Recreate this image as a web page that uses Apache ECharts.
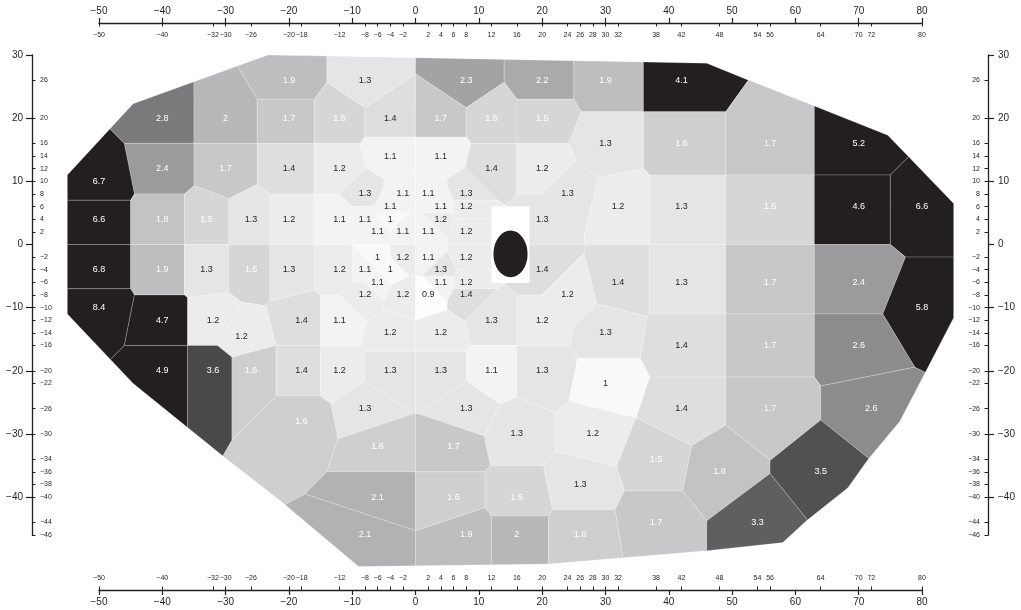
<!DOCTYPE html>
<html>
<head>
<meta charset="utf-8">
<script src="https://cdn.jsdelivr.net/npm/echarts@6/dist/echarts.min.js"></script>
<style>
html,body{margin:0;padding:0;background:#fff;}
#chart{width:1021px;height:610px;}
</style>
</head>
<body>
<div id="chart"></div>
<script>
// Test locations: [x (deg), y (deg), value]
const points = [
  // y = 26
  [-20,26,1.9],[-8,26,1.3],[8,26,2.3],[20,26,2.2],[30,26,1.9],[42,26,4.1],
  // y = 20
  [-40,20,2.8],[-30,20,2],[-20,20,1.7],[-12,20,1.5],[-4,20,1.4],[4,20,1.7],[12,20,1.5],[20,20,1.5],
  // y = 16 / 14
  [30,16,1.3],[42,16,1.6],[56,16,1.7],[70,16,5.2],[-4,14,1.1],[4,14,1.1],
  // y = 12 / 10
  [-40,12,2.4],[-30,12,1.7],[-20,12,1.4],[-12,12,1.2],[12,12,1.4],[20,12,1.2],[-50,10,6.7],
  // y = 8
  [-8,8,1.3],[-2,8,1.1],[2,8,1.1],[8,8,1.3],[24,8,1.3],
  // y = 6
  [-4,6,1.1],[4,6,1.1],[8,6,1.2],[32,6,1.2],[42,6,1.3],[56,6,1.5],[70,6,4.6],[80,6,6.6],
  // y = 4
  [-50,4,6.6],[-40,4,1.8],[-33,4,1.5],[-26,4,1.3],[-20,4,1.2],[-12,4,1.1],[-8,4,1.1],[-4,4,1],[4,4,1.2],[20,4,1.3],
  // y = 2 / -2
  [-6,2,1.1],[-2,2,1.1],[2,2,1.1],[8,2,1.2],
  [-6,-2,1],[-2,-2,1.2],[2,-2,1.1],[8,-2,1.2],
  // y = -4
  [-50,-4,6.8],[-40,-4,1.9],[-33,-4,1.3],[-26,-4,1.5],[-20,-4,1.3],[-12,-4,1.2],[-8,-4,1.1],[-4,-4,1],[4,-4,1.3],[20,-4,1.4],
  // y = -6
  [-6,-6,1.1],[4,-6,1.1],[8,-6,1.2],[32,-6,1.4],[42,-6,1.3],[56,-6,1.7],[70,-6,2.4],
  // y = -8 / -10
  [-8,-8,1.2],[-2,-8,1.2],[2,-8,0.9],[8,-8,1.4],[24,-8,1.2],[-50,-10,8.4],[80,-10,5.8],
  // y = -12 / -14 / -16
  [-40,-12,4.7],[-32,-12,1.2],[-18,-12,1.4],[-12,-12,1.1],[12,-12,1.3],[20,-12,1.2],
  [-27.5,-14.5,1.2],[-4,-14,1.2],[4,-14,1.2],[30,-14,1.3],
  [42,-16,1.4],[56,-16,1.7],[70,-16,2.6],
  // y = -20 / -22
  [-40,-20,4.9],[-32,-20,3.6],[-26,-20,1.6],[-18,-20,1.4],[-12,-20,1.2],[-4,-20,1.3],[4,-20,1.3],[12,-20,1.1],[20,-20,1.3],
  [30,-22,1],
  // y = -26 .. -32
  [-8,-26,1.3],[8,-26,1.3],[42,-26,1.4],[56,-26,1.7],[72,-26,2.6],[-18,-28,1.6],
  [16,-30,1.3],[28,-30,1.2],[-6,-32,1.6],[6,-32,1.7],
  // y = -34 .. -40
  [38,-34,1.5],[48,-36,1.8],[64,-36,3.5],[26,-38,1.3],
  [-6,-40,2.1],[6,-40,1.6],[16,-40,1.5],
  // y = -44 / -46
  [38,-44,1.7],[54,-44,3.3],
  [-8,-46,2.1],[8,-46,1.9],[16,-46,2],[26,-46,1.6]
];

// Outline of the tested field (deg)
const fieldOutline = [[-55,11],[-44.6,22.3],[-23.3,30],[46,28.7],[52.4,26.1],[62.8,22],[74.6,17.3],[85,6.5],[85,-11.6],
  [76.5,-28],[71.5,-34],[68.3,-38.5],[61.8,-43.7],[58,-47.2],[46,-48.5],[21,-50.6],[-9,-51],[-21.7,-40.3],[-29.8,-34],[-44.6,-22],[-55,-11]];

// Blind spot
const blindSpotRect = [12, 18, -6.1, 6];          // xMin, xMax, yMin, yMax
const blindSpotEllipse = [15, -1.5, 2.7, 3.7];    // cx, cy, rx, ry

// Axis ticks
const xMajor = [-50,-40,-30,-20,-10,0,10,20,30,40,50,60,70,80];
const xMinor = [-50,-40,-32,-30,-26,-20,-18,-12,-8,-6,-4,-2,2,4,6,8,12,16,20,24,26,28,30,32,38,42,48,54,56,64,70,72,80];
const yMajor = [30,20,10,0,-10,-20,-30,-40];
const yMinor = [26,20,16,14,12,10,8,6,4,2,-2,-4,-6,-8,-10,-12,-14,-16,-20,-22,-26,-30,-34,-36,-38,-40,-44,-46];

// grey shade per value
const shadeStops = [[0.9,253],[1,249],[1.1,243],[1.2,236],[1.3,229],[1.4,222],[1.5,214],[1.6,207],[1.7,200],[1.8,195],[1.9,190],[2,184],[2.1,178],[2.2,170],[2.3,163],[2.4,155],[2.6,140],[2.8,122],[3.3,95],[3.5,81],[3.6,73],[4,40]];
function shade(v){
  if (v >= 4) return '#231f20';
  let g = shadeStops[0][1];
  for (let k = 0; k < shadeStops.length - 1; k++) {
    const a = shadeStops[k], b = shadeStops[k+1];
    if (v >= a[0] && v <= b[0]) { g = a[1] + (b[1]-a[1])*(v-a[0])/(b[0]-a[0]); break; }
  }
  g = Math.round(g);
  return 'rgb(' + g + ',' + g + ',' + Math.min(255, g+2) + ')';
}

// Voronoi cells clipped to the outline (half-plane clipping)
function clipHalf(poly, si, sj){
  const dx = sj[0]-si[0], dy = sj[1]-si[1];
  const mx = (si[0]+sj[0])/2, my = (si[1]+sj[1])/2;
  const f = p => (p[0]-mx)*dx + (p[1]-my)*dy;
  const out = [];
  for (let k = 0; k < poly.length; k++) {
    const a = poly[k], b = poly[(k+1)%poly.length];
    const fa = f(a), fb = f(b);
    if (fa <= 0) out.push(a);
    if ((fa <= 0) !== (fb <= 0)) {
      const t = fa/(fa-fb);
      out.push([a[0]+t*(b[0]-a[0]), a[1]+t*(b[1]-a[1])]);
    }
  }
  return out;
}
const cells = points.map((p, i) => {
  let poly = fieldOutline.slice();
  points.forEach((q, j) => { if (j !== i && poly.length) poly = clipHalf(poly, p, q); });
  return poly;
});

const ink = '#231f20';
const fontFam = '"Liberation Sans", Arial, Helvetica, sans-serif';
const minus = v => String(v).replace('-', '\u2212');

function xAxisDef(pos, primary){
  return {
    type: 'value', min: -50, max: 80, position: pos, offset: pos === 'top' ? 32 : 55,
    axisLine: { show: primary, onZero: false, lineStyle: { color: ink, width: 1.3 } },
    axisTick: primary ? { show: true, length: 5, customValues: xMajor, lineStyle: { color: ink, width: 1.2 } }
                      : { show: true, inside: true, length: 3.5, customValues: xMinor, lineStyle: { color: ink, width: 1 } },
    axisLabel: primary ? { customValues: xMajor, fontSize: 10, margin: 7, color: ink, fontFamily: fontFam, formatter: minus }
                       : { customValues: xMinor, inside: true, fontSize: 7, margin: 8.5, color: ink, fontFamily: fontFam, formatter: minus },
    splitLine: { show: false }
  };
}
function yAxisDef(pos, primary){
  return {
    type: 'value', min: -46, max: 30, position: pos, offset: pos === 'left' ? 67 : 66,
    axisLine: { show: primary, onZero: false, lineStyle: { color: ink, width: 1.3 } },
    axisTick: primary ? { show: true, length: 6, customValues: yMajor, lineStyle: { color: ink, width: 1.2 } }
                      : { show: true, inside: true, length: 3.5, customValues: yMinor, lineStyle: { color: ink, width: 1 } },
    axisLabel: primary ? { customValues: yMajor, fontSize: 10, margin: pos === 'left' ? 9 : 10, color: ink, fontFamily: fontFam, formatter: minus }
                       : { customValues: yMinor, inside: true, fontSize: 7, margin: 8, color: ink, fontFamily: fontFam, formatter: minus },
    splitLine: { show: false }
  };
}

const chart = echarts.init(document.getElementById('chart'), null, { renderer: 'canvas' });
chart.setOption({
  animation: false,
  backgroundColor: '#ffffff',
  grid: { left: 99, right: 99, top: 55, bottom: 75, containLabel: false, outerBoundsMode: 'none' },
  xAxis: [xAxisDef('top', true), xAxisDef('top', false), xAxisDef('bottom', true), xAxisDef('bottom', false)],
  yAxis: [yAxisDef('left', true), yAxisDef('left', false), yAxisDef('right', true), yAxisDef('right', false)],
  series: [
    {
      type: 'custom', coordinateSystem: 'cartesian2d', xAxisIndex: 0, yAxisIndex: 0, clip: false,
      data: points.map(p => [p[0], p[1], p[2]]),
      encode: { x: 0, y: 1 },
      renderItem: function(params, api){
        const i = params.dataIndex;
        const v = points[i][2];
        const poly = cells[i].map(p => api.coord(p));
        const c = api.coord([points[i][0], points[i][1]]);
        return {
          type: 'group',
          children: [
            { type: 'polygon', shape: { points: poly },
              style: { fill: shade(v), stroke: 'rgba(255,255,255,0.35)', lineWidth: 0.6 } },
            { type: 'text', x: c[0], y: c[1], z2: 10,
              style: { text: String(v), fill: v >= 1.5 ? '#ffffff' : ink, font: '9px ' + fontFam,
                       align: 'center', verticalAlign: 'middle' } }
          ]
        };
      }
    },
    {
      type: 'custom', coordinateSystem: 'cartesian2d', xAxisIndex: 0, yAxisIndex: 0, clip: false, z: 3,
      data: [[blindSpotEllipse[0], blindSpotEllipse[1]]],
      renderItem: function(params, api){
        const tl = api.coord([blindSpotRect[0], blindSpotRect[3]]);
        const br = api.coord([blindSpotRect[1], blindSpotRect[2]]);
        const c = api.coord([blindSpotEllipse[0], blindSpotEllipse[1]]);
        const rx = api.size([blindSpotEllipse[2], 0])[0];
        const ry = api.size([0, blindSpotEllipse[3]])[1];
        return {
          type: 'group',
          children: [
            { type: 'rect', shape: { x: tl[0], y: tl[1], width: br[0]-tl[0], height: br[1]-tl[1] }, style: { fill: '#ffffff' } },
            { type: 'circle', x: c[0], y: c[1], scaleX: rx/ry, shape: { cx: 0, cy: 0, r: ry }, style: { fill: ink } }
          ]
        };
      }
    }
  ]
});
</script>
</body>
</html>
